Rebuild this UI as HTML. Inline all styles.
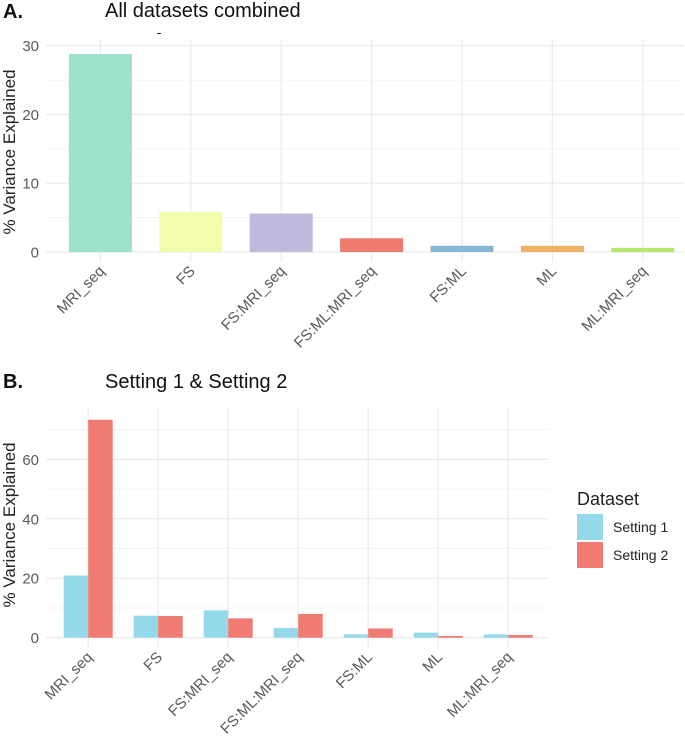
<!DOCTYPE html>
<html><head><meta charset="utf-8"><style>
body{margin:0;background:#fff;}
svg text{font-family:"Liberation Sans",sans-serif;}
</style></head><body>
<svg id="svg" width="685" height="736" xmlns="http://www.w3.org/2000/svg">
<text x="3" y="18" font-size="20" font-weight="bold" fill="#111">A.</text>
<text x="105" y="17" font-size="20" fill="#111">All datasets combined</text>
<rect x="157" y="33" width="4" height="1" fill="#333"/>
<text x="3" y="388" font-size="20" font-weight="bold" fill="#111">B.</text>
<text x="105" y="388" font-size="20" fill="#111">Setting 1 &amp; Setting 2</text>
<g id="ga"></g>
<g id="gb"></g>
</svg>
<script>
const catsA = ["MRI_seq","FS","FS:MRI_seq","FS:ML:MRI_seq","FS:ML","ML","ML:MRI_seq"];
const valsA = [28.8,5.8,5.6,2.0,0.9,0.9,0.6];
const colorsA = ["#9de2cc","#f2fcab","#bdbadb","#ef7a70","#87b7d6","#edb266","#b4e96b"];
const ticksA = [0,10,20,30];
const catsB = ["MRI_seq","FS","FS:MRI_seq","FS:ML:MRI_seq","FS:ML","ML","ML:MRI_seq"];
const setting1 = [20.9,7.4,9.2,3.3,1.1,1.7,1.1];
const setting2 = [73.3,7.3,6.5,8.0,3.1,0.6,0.9];
const ticksB = [0,20,40,60];
const seriesNames = ["Setting 1","Setting 2"];
const colorsB = ["#93d9ea","#f07b72"];

const NS="http://www.w3.org/2000/svg";
function mk(parent,tag,attrs){const e=document.createElementNS(NS,tag);for(const k in attrs)e.setAttribute(k,attrs[k]);parent.appendChild(e);return e;}
const TF=15;

// Chart A
(function(){
const g=document.getElementById('ga');
const L=46,R=684,y0=252,y30=45.7;
const ys=v=>y0-(y0-y30)*v/30;
const x0=100.4,step=90.4;
const xs=i=>x0+i*step;
for(let v=5;v<=32;v+=10){const l=mk(g,'line',{x1:L,x2:R,y1:ys(v),y2:ys(v),stroke:'#f3f3f3','stroke-width':1});}
ticksA.forEach(v=>{const l=mk(g,'line',{x1:L,x2:R,y1:ys(v),y2:ys(v),stroke:'#ebebeb','stroke-width':1.3});
const t=mk(g,'text',{x:39,y:ys(v)+5.5,'text-anchor':'end','font-size':TF,fill:'#5a5a5a'});t.textContent=v;});
catsA.forEach((c,i)=>{const l=mk(g,'line',{x1:xs(i),x2:xs(i),y1:40,y2:262,stroke:'#ebebeb','stroke-width':1.3});});
catsA.forEach((c,i)=>{const b=mk(g,'rect',{x:xs(i)-31.5,y:ys(valsA[i]),width:63,height:y0-ys(valsA[i]),fill:colorsA[i]});
const t=mk(g,'text',{x:xs(i)+5,y:272,'text-anchor':'end','font-size':TF,fill:'#5a5a5a',transform:`rotate(-45 ${xs(i)+5} 272)`});t.textContent=c;});
const yt=mk(g,'text',{x:0,y:0,'text-anchor':'middle','font-size':17,fill:'#222',transform:'translate(15 152) rotate(-90)'});yt.textContent='% Variance Explained';
})();

// Chart B
(function(){
const g=document.getElementById('gb');
const L=46,R=549,y0=637.7,y60=459.3;
const ys=v=>y0-(y0-y60)*v/60;
const x0=88.2,step=70;
const xs=i=>x0+i*step;
const bw=24.5;
[10,30,50,70].forEach(v=>{const l=mk(g,'line',{x1:L,x2:R,y1:ys(v),y2:ys(v),stroke:'#f3f3f3','stroke-width':1});});
ticksB.forEach(v=>{const l=mk(g,'line',{x1:L,x2:R,y1:ys(v),y2:ys(v),stroke:'#ebebeb','stroke-width':1.3});
const t=mk(g,'text',{x:39,y:ys(v)+5.5,'text-anchor':'end','font-size':TF,fill:'#5a5a5a'});t.textContent=v;});
catsB.forEach((c,i)=>{const l=mk(g,'line',{x1:xs(i),x2:xs(i),y1:409,y2:648,stroke:'#ebebeb','stroke-width':1.3});});
catsB.forEach((c,i)=>{
const b1=mk(g,'rect',{x:xs(i)-bw,y:ys(setting1[i]),width:bw,height:y0-ys(setting1[i]),fill:colorsB[0]});
const b2=mk(g,'rect',{x:xs(i),y:ys(setting2[i]),width:bw,height:y0-ys(setting2[i]),fill:colorsB[1]});
const t=mk(g,'text',{x:xs(i)+5,y:658,'text-anchor':'end','font-size':TF,fill:'#5a5a5a',transform:`rotate(-45 ${xs(i)+5} 658)`});t.textContent=c;});
const yt=mk(g,'text',{x:0,y:0,'text-anchor':'middle','font-size':17,fill:'#222',transform:'translate(15 525) rotate(-90)'});yt.textContent='% Variance Explained';
const lt=mk(g,'text',{x:577,y:505,'font-size':18,fill:'#222'});lt.textContent='Dataset';
seriesNames.forEach((s,k)=>{const r=mk(g,'rect',{x:577,y:514+k*28,width:26,height:26,fill:colorsB[k]});
const t=mk(g,'text',{x:613,y:532+k*28,'font-size':14,fill:'#222'});t.textContent=s;});
})();
</script>
</body></html>
